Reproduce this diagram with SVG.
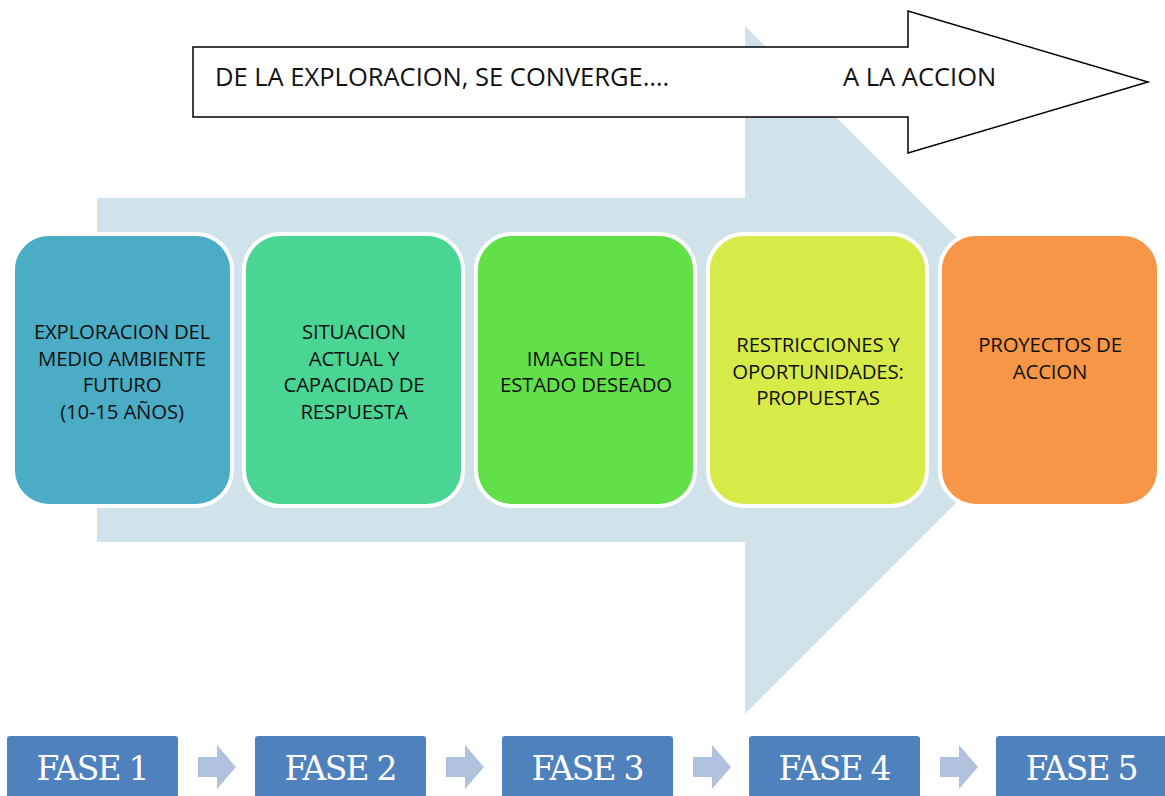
<svg xmlns="http://www.w3.org/2000/svg" width="1165" height="796" viewBox="0 0 1165 796">
<style>
.box{stroke:#fff;stroke-width:4}
.t{font-family:"Open Sans","Liberation Sans",sans-serif;font-size:20.4px;fill:#111;text-anchor:middle;letter-spacing:-0.2px}
.top{font-family:"Open Sans","Liberation Sans",sans-serif;font-size:25.5px;fill:#111;letter-spacing:0px}
.fase{fill:#4F81BD}
.ft{font-family:"DejaVu Serif","Liberation Serif",serif;font-size:33px;fill:#fff;text-anchor:middle;letter-spacing:-1.8px}
.sa{fill:#B0C1DD}
</style>
<rect width="1165" height="796" fill="#fff"/>
<g id="bigArrow">
<polygon points="97,198 745,198 745,26 1089,370 745,714 745,542 97,542" fill="#D0E2EA"/>
</g>
<g id="topArrow">
<polygon points="193,47 908,47 908,11 1148,82 908,153 908,117 193,117" fill="#fff" stroke="#000" stroke-width="1.5"/>
<text class="top" x="215" y="86">DE LA EXPLORACION, SE CONVERGE….</text>
<text class="top" x="843" y="86">A LA ACCION</text>
</g>
<g id="n1">
<rect class="box" x="13" y="234" width="219" height="272" rx="36" fill="#4BACC6"/>
<text class="t"><tspan x="122" y="339">EXPLORACION DEL</tspan><tspan x="122" y="366">MEDIO AMBIENTE</tspan><tspan x="122" y="392">FUTURO</tspan><tspan x="122" y="419">(10-15 AÑOS)</tspan></text>
</g>
<g id="n2">
<rect class="box" x="244" y="234" width="219" height="272" rx="36" fill="#4AD594"/>
<text class="t"><tspan x="354" y="339">SITUACION</tspan><tspan x="354" y="366">ACTUAL Y</tspan><tspan x="354" y="392">CAPACIDAD DE</tspan><tspan x="354" y="419">RESPUESTA</tspan></text>
</g>
<g id="n3">
<rect class="box" x="476" y="234" width="219" height="272" rx="36" fill="#62E04A"/>
<text class="t"><tspan x="586" y="366">IMAGEN DEL</tspan><tspan x="586" y="392">ESTADO DESEADO</tspan></text>
</g>
<g id="n4">
<rect class="box" x="708" y="234" width="219" height="272" rx="36" fill="#D6EB48"/>
<text class="t"><tspan x="818" y="352">RESTRICCIONES Y</tspan><tspan x="818" y="379">OPORTUNIDADES:</tspan><tspan x="818" y="405">PROPUESTAS</tspan></text>
</g>
<g id="n5">
<rect class="box" x="940" y="234" width="219" height="272" rx="36" fill="#F79646"/>
<text class="t"><tspan x="1050" y="352">PROYECTOS DE</tspan><tspan x="1050" y="379">ACCION</tspan></text>
</g>
<g id="f1"><rect class="fase" x="7" y="736" width="171" height="70" rx="3"/><text class="ft" x="92" y="780">FASE 1</text></g>
<g id="f2"><rect class="fase" x="255" y="736" width="171" height="70" rx="3"/><text class="ft" x="340" y="780">FASE 2</text></g>
<g id="f3"><rect class="fase" x="502" y="736" width="171" height="70" rx="3"/><text class="ft" x="587" y="780">FASE 3</text></g>
<g id="f4"><rect class="fase" x="749" y="736" width="171" height="70" rx="3"/><text class="ft" x="834" y="780">FASE 4</text></g>
<g id="f5"><rect class="fase" x="996" y="736" width="171" height="70" rx="3"/><text class="ft" x="1081" y="780">FASE 5</text></g>
<g id="connectors">
<polygon class="sa" points="198,757 217,757 217,745 236,767 217,789 217,777 198,777"/>
<polygon class="sa" points="446,757 465,757 465,745 484,767 465,789 465,777 446,777"/>
<polygon class="sa" points="693,757 712,757 712,745 731,767 712,789 712,777 693,777"/>
<polygon class="sa" points="940,757 959,757 959,745 978,767 959,789 959,777 940,777"/>
</g>
</svg>
